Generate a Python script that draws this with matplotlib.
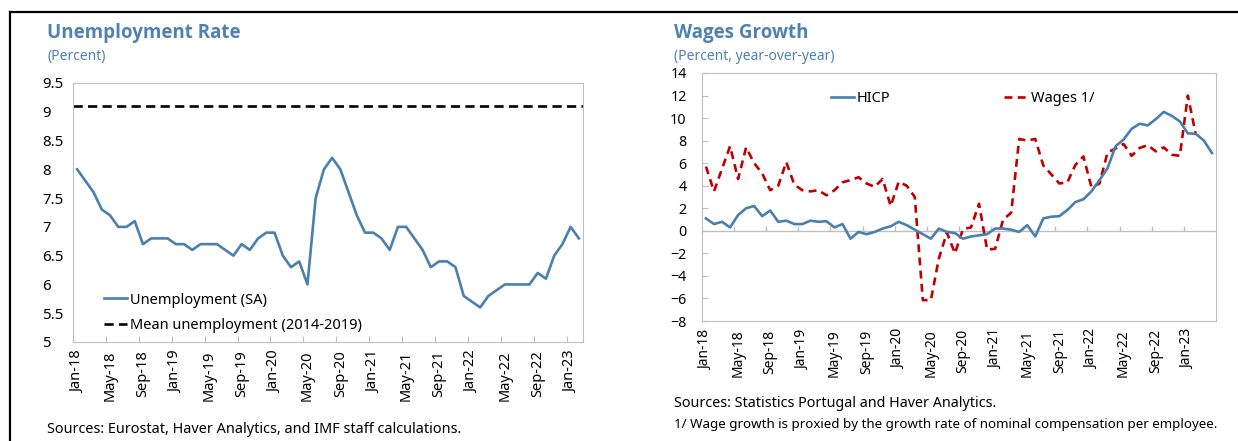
import numpy as np
import matplotlib.pyplot as plt
from matplotlib.lines import Line2D

plt.rcParams['font.family'] = ['Noto Sans', 'DejaVu Sans']

# monthly data, Jan-18 onwards
unemployment = [8.0, 7.8, 7.6, 7.3, 7.2, 7.0, 7.0, 7.1, 6.7, 6.8, 6.8, 6.8,
                6.7, 6.7, 6.6, 6.7, 6.7, 6.7, 6.6, 6.5, 6.7, 6.6, 6.8, 6.9,
                6.9, 6.5, 6.3, 6.4, 6.0, 7.5, 8.0, 8.2, 8.0, 7.6, 7.2, 6.9,
                6.9, 6.8, 6.6, 7.0, 7.0, 6.8, 6.6, 6.3, 6.4, 6.4, 6.3, 5.8,
                5.7, 5.6, 5.8, 5.9, 6.0, 6.0, 6.0, 6.0, 6.2, 6.1, 6.5, 6.7,
                7.0, 6.8]
mean_unemployment = 9.1

hicp = [1.1, 0.6, 0.8, 0.3, 1.4, 2.0, 2.2, 1.3, 1.8, 0.8, 0.9, 0.6,
        0.6, 0.9, 0.8, 0.85, 0.3, 0.6, -0.7, -0.1, -0.3, -0.1, 0.2, 0.4,
        0.8, 0.5, 0.1, -0.3, -0.7, 0.2, -0.1, -0.2, -0.7, -0.5, -0.4, -0.3,
        0.2, 0.2, 0.1, -0.1, 0.5, -0.5, 1.1, 1.25, 1.3, 1.85, 2.55, 2.8,
        3.5, 4.5, 5.55, 7.5, 8.1, 9.05, 9.5, 9.35, 9.9, 10.55, 10.2, 9.7,
        8.65, 8.6, 8.0, 6.9]
wages = [5.7, 3.5, 5.5, 7.5, 4.6, 7.4, 6.0, 5.1, 3.6, 4.0, 6.1, 4.1,
         3.6, 3.5, 3.6, 3.15, 3.6, 4.3, 4.5, 4.75, 4.2, 3.9, 4.6, 2.2,
         4.35, 4.0, 3.0, -6.15, -6.15, -2.45, -0.15, -2.0, 0.15, 0.3, 2.4, -1.65,
         -1.6, 1.0, 1.6, 8.15, 8.0, 8.15, 5.8, 5.0, 4.2, 4.3, 5.85, 6.6,
         3.85, 4.2, 6.95, 7.3, 7.7, 6.65, 7.35, 7.6, 7.05, 7.4, 6.75, 6.65,
         12.0, 8.5]

tick_labels = ["Jan-18", "May-18", "Sep-18", "Jan-19", "May-19", "Sep-19",
               "Jan-20", "May-20", "Sep-20", "Jan-21", "May-21", "Sep-21",
               "Jan-22", "May-22", "Sep-22", "Jan-23"]

blue = '#4a7fb0'
red = '#c00000'
title_blue = '#4f81b3'
grey = '#bfbfbf'

fig = plt.figure(figsize=(12.38, 4.41), dpi=100)

# ---------- left panel: unemployment ----------
ax1 = fig.add_axes([0.0590, 0.2245, 0.4119, 0.5873])
x1 = np.arange(len(unemployment))
ax1.plot(x1, unemployment, color=blue, lw=1.9, label='Unemployment (SA)')
ax1.axhline(mean_unemployment, color='black', lw=1.9, ls=(0, (3.5, 2)),
            label='Mean unemployment (2014-2019)')
ax1.set_xlim(-0.5, len(unemployment) - 0.5)
ax1.set_ylim(5, 9.5)
ax1.set_yticks(np.arange(5, 9.51, 0.5))
ax1.set_yticklabels([f'{v:g}' for v in np.arange(5, 9.51, 0.5)])
ax1.tick_params(axis='y', length=0, labelsize=10.8, pad=22)
for lab in ax1.get_yticklabels():
    lab.set_horizontalalignment('left')
ax1.set_xticks(np.arange(-0.5, len(unemployment), 4))
ax1.set_xticklabels([])
ax1.tick_params(axis='x', which='major', direction='in', length=4, color=grey)
ax1.set_xticks(np.arange(0, len(unemployment), 4), minor=True)
ax1.set_xticklabels(tick_labels, minor=True, rotation=90, fontsize=10.5)
ax1.tick_params(axis='x', which='minor', length=0, pad=6)
for s in ax1.spines.values():
    s.set_color(grey)
ax1.legend(loc='lower left', bbox_to_anchor=(0.035, -0.015), frameon=False,
           fontsize=10.5, handlelength=1.6, handletextpad=0.2, labelspacing=0.7)

fig.text(0.038, 0.925, 'Unemployment Rate', color=title_blue, fontsize=13.5,
         fontweight='bold', family='Open Sans', va='center')
fig.text(0.038, 0.872, '(Percent)', color=title_blue, fontsize=10, va='center')
fig.text(0.038, 0.027, 'Sources: Eurostat, Haver Analytics, and IMF staff calculations.',
         fontsize=10.4, va='center')

# ---------- right panel: wages ----------
ax2 = fig.add_axes([0.5670, 0.2721, 0.4152, 0.5624])
x2 = np.arange(len(hicp))
ax2.plot(x2, hicp, color=blue, lw=1.9, label='HICP', zorder=3)
ax2.plot(np.arange(len(wages)), wages, color=red, lw=1.9, ls=(0, (3, 2)),
         label='Wages 1/', zorder=2)
ax2.axhline(0, color=grey, lw=1, zorder=1)
ax2.vlines(np.arange(-0.5, len(hicp), 4)[1:-1], 0, 0.45, color=grey, lw=1, zorder=1)
ax2.set_xlim(-0.5, len(hicp) - 0.5)
ax2.set_ylim(-8, 14)
ax2.set_yticks(np.arange(-8, 15, 2))
ax2.tick_params(axis='y', direction='in', length=4, color=grey, labelsize=10.3, pad=11)
ax2.set_xticks(np.arange(0, 64, 4))
ax2.set_xticklabels(tick_labels, rotation=90, fontsize=10)
ax2.tick_params(axis='x', length=0, pad=6)
for s in ax2.spines.values():
    s.set_color(grey)
ax2.legend(loc='upper left', bbox_to_anchor=(0.225, 0.98), ncol=2, frameon=False,
           fontsize=10.5, handlelength=1.6, handletextpad=0.2, columnspacing=7.8)

fig.text(0.5444, 0.925, 'Wages Growth', color=title_blue, fontsize=13.5,
         fontweight='bold', family='Open Sans', va='center')
fig.text(0.5444, 0.872, '(Percent, year-over-year)', color=title_blue, fontsize=10,
         va='center')
fig.text(0.5444, 0.086, 'Sources: Statistics Portugal and Haver Analytics.',
         fontsize=10.3, va='center')
fig.text(0.5444, 0.038, '1/ Wage growth is proxied by the growth rate of nominal '
         'compensation per employee.', fontsize=9.6, va='center')

# frame lines
fig.add_artist(Line2D([10 / 1238, 1], [1 - 12 / 441, 1 - 12 / 441], color='black',
                      lw=1.6, transform=fig.transFigure))
fig.add_artist(Line2D([10 / 1238, 10 / 1238], [0, 1 - 12 / 441], color='black',
                      lw=1.6, transform=fig.transFigure))

fig.savefig('out.png', dpi=100)
